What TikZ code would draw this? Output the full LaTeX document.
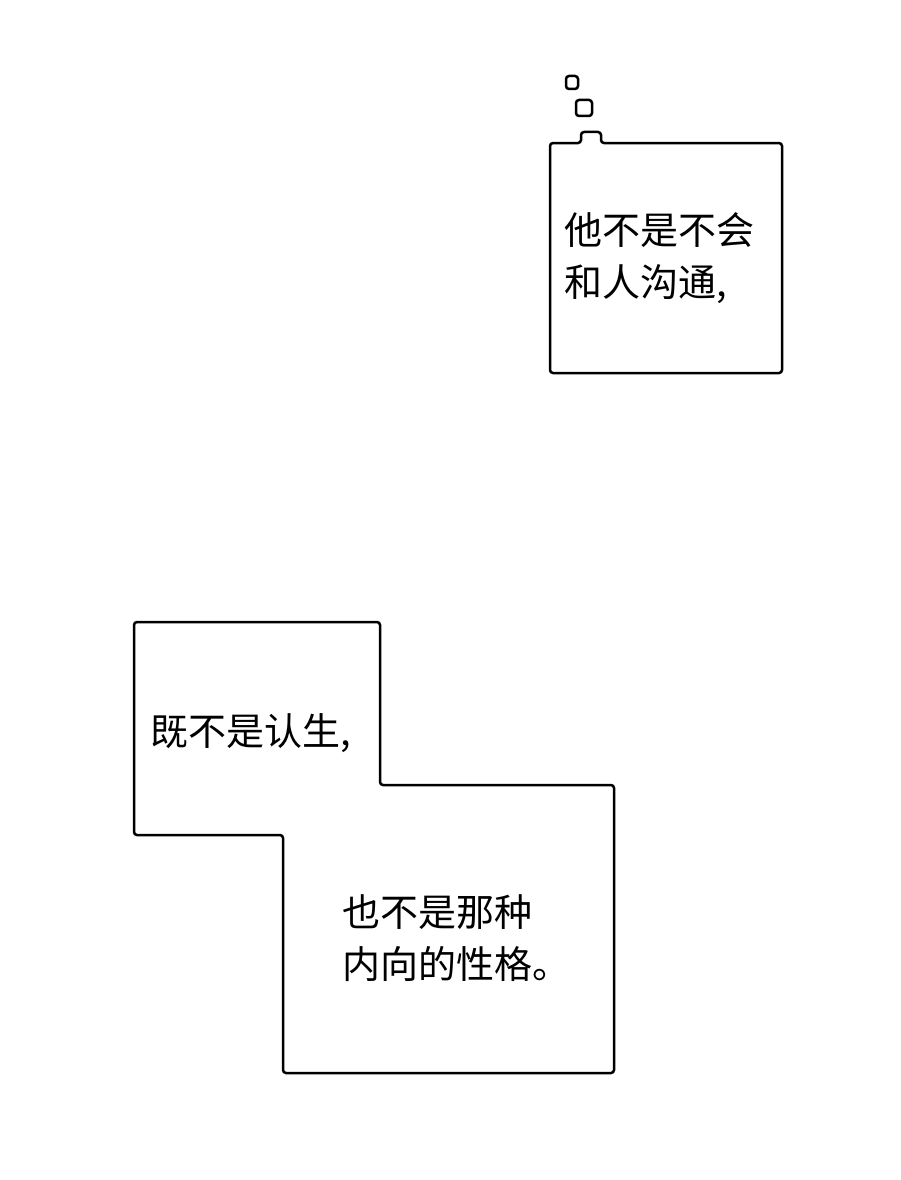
\documentclass[tikz,border=0pt]{standalone}
\usepackage{fontspec}
\newfontfamily\cjk{Noto Sans CJK SC}
\tikzset{
  bubble/.style={line width=2.5pt,rounded corners=3pt},
  words/.style={font=\cjk\fontsize{38}{52}\selectfont,align=left,inner sep=0pt}
}
\begin{document}
\begin{tikzpicture}[x=1pt,y=-1pt]
\useasboundingbox (0,0) rectangle (900,1180);

% top bubble with its little squares
\draw[bubble] (566,76) rectangle (578,89);
\draw[bubble] (576,100) rectangle (592,116);
\draw[bubble] (550,143) -- (581,143) -- (581,132) -- (601,132) -- (601,143)
  -- (782,143) -- (782,373) -- (550,373) -- cycle;
\node[words,anchor=west] (talk) at (564,258) {他不是不会\\和人沟通,};

% lower stepped bubble
\draw[bubble] (134,622) -- (380,622) -- (380,785) -- (614,785) -- (614,1073)
  -- (283,1073) -- (283,835) -- (134,835) -- cycle;
\node[words,anchor=west] (shy) at (150,733) {既不是认生,};
\node[words,anchor=west] (quiet) at (342,938) {也不是那种\\内向的性格。};

\end{tikzpicture}
\end{document}
